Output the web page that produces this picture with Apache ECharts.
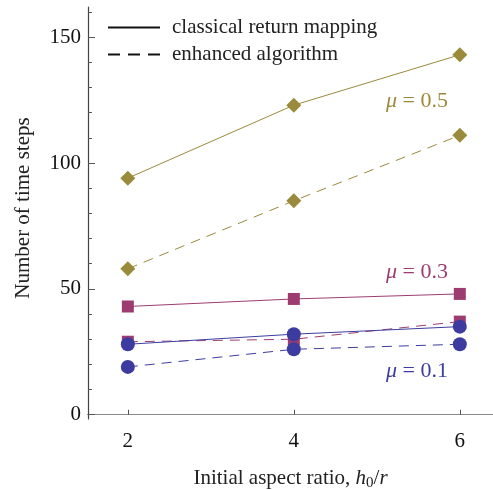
<!DOCTYPE html>
<html>
<head>
<meta charset="utf-8">
<script src="https://cdn.jsdelivr.net/npm/echarts@6/dist/echarts.min.js"></script>
<style>
  html, body { margin: 0; padding: 0; background: #fff; }
  #chart { width: 493px; height: 490px; }
</style>
</head>
<body>
<div id="chart"></div>
<script>
// aspect ratios h0/r
const ratios = [2, 4, 6];
// number of time steps, mu = 0.5
const mu05Classical = [94, 123, 143];
const mu05Enhanced = [58, 85, 111];
// mu = 0.3
const mu03Classical = [43, 46, 48];
const mu03Enhanced = [29, 30, 37];
// mu = 0.1
const mu01Classical = [28, 32, 35];
const mu01Enhanced = [19, 26, 28];

const yMajorTicks = [0, 50, 100, 150];
const yMinorTicks = [10, 20, 30, 40, 60, 70, 80, 90, 110, 120, 130, 140, 160];

const FONT = 'Liberation Serif';
const OLIVE = '#9a8a3b';
const PLUM = '#9c3c70';
const BLUE = '#3c3ca0';

const pairs = (ys) => ratios.map((x, i) => [x, ys[i]]);

const mychart = echarts.init(document.getElementById('chart'));

function mkSeries(name, ys, color, symbol, size, dashed) {
    return {
        name: name,
        type: 'line',
        data: pairs(ys),
        symbol: symbol,
        symbolSize: size,
        showSymbol: true,
        itemStyle: { color: color },
        lineStyle: { color: color, width: 1, type: dashed ? [10, 7] : 'solid' },
        emphasis: { disabled: true },
        z: 3
    };
}

function muLabel(txt, color, top) {
    return {
        type: 'text', left: 386, top: top,
        style: {
            text: '{i|μ} = ' + txt, fill: color, font: '22px "Liberation Serif"',
            rich: { i: { fontStyle: 'italic', fontSize: 22, fontFamily: FONT, fill: color } }
        }
    };
}

const option = {
    animation: false,
    textStyle: { fontFamily: FONT },
    grid: { left: 88, right: 0, top: 7, bottom: 71, containLabel: false, outerBoundsMode: 'none' },
    legend: {
        left: 102,
        top: 12,
        orient: 'vertical',
        itemWidth: 52,
        itemHeight: 14,
        itemGap: 6,
        data: ['classical return mapping', 'enhanced algorithm'],
        itemStyle: { opacity: 0 },
        textStyle: { fontFamily: FONT, fontSize: 21, color: '#222', padding: [0, 0, 0, 7] },
        selectedMode: false
    },
    xAxis: [{
        type: 'value',
        min: 1.52,
        max: 6.4,
        axisLine: { lineStyle: { color: '#333', width: 1.2 } },
        axisTick: { inside: true, length: 5, customValues: ratios, lineStyle: { color: '#555' } },
        axisLabel: { customValues: ratios, fontSize: 21, color: '#111', margin: 12, fontFamily: FONT },
        splitLine: { show: false },
        name: 'Initial aspect ratio, {i|h}{sub|0}/{i|r}',
        nameLocation: 'middle',
        nameGap: 47,
        nameTextStyle: {
            fontFamily: FONT, fontSize: 21, color: '#222',
            rich: {
                i: { fontFamily: FONT, fontStyle: 'italic', fontSize: 21, color: '#222' },
                sub: { fontFamily: FONT, fontSize: 15, color: '#222', padding: [10, 0, 0, 0] }
            }
        }
    }, {
        type: 'value',
        position: 'top',
        min: 1.52,
        max: 6.4,
        axisLine: { show: true, lineStyle: { color: '#888', width: 1.2 } },
        axisTick: { show: false },
        axisLabel: { show: false },
        splitLine: { show: false }
    }],
    yAxis: [{
        type: 'value',
        min: -1.7,
        max: 162,
        axisLine: { show: true, lineStyle: { color: '#444', width: 1.2 } },
        axisTick: { inside: true, length: 7, customValues: yMajorTicks, lineStyle: { color: '#555' } },
        axisLabel: { customValues: yMajorTicks, fontSize: 21, color: '#111', margin: 7, fontFamily: FONT },
        splitLine: { show: false },
        name: 'Number of time steps',
        nameLocation: 'middle',
        nameGap: 54,
        nameTextStyle: { fontFamily: FONT, fontSize: 21, color: '#222', padding: [0, 0, 0, 10] }
    }, {
        type: 'value',
        position: 'left',
        min: -1.7,
        max: 162,
        axisLine: { show: false },
        axisTick: { show: true, inside: true, length: 4, customValues: yMinorTicks, lineStyle: { color: '#555' } },
        axisLabel: { show: false },
        splitLine: { show: false }
    }],
    series: [
        // legend-only entries
        { name: 'classical return mapping', type: 'line', data: [], symbol: 'none', itemStyle: { color: '#111' }, lineStyle: { color: '#111', width: 1 } },
        { name: 'enhanced algorithm', type: 'line', data: [], symbol: 'none', itemStyle: { color: '#111' }, lineStyle: { color: '#111', width: 1, type: [12, 8] } },
        mkSeries('mu05c', mu05Classical, OLIVE, 'diamond', 15, false),
        mkSeries('mu05e', mu05Enhanced, OLIVE, 'diamond', 15, true),
        mkSeries('mu03c', mu03Classical, PLUM, 'rect', 12, false),
        mkSeries('mu03e', mu03Enhanced, PLUM, 'rect', 12, true),
        mkSeries('mu01c', mu01Classical, BLUE, 'circle', 14, false),
        mkSeries('mu01e', mu01Enhanced, BLUE, 'circle', 14, true)
    ],
    graphic: [
        muLabel('0.5', OLIVE, 90),
        muLabel('0.3', PLUM, 261),
        muLabel('0.1', BLUE, 360)
    ]
};

mychart.setOption(option, true);
</script>
</body>
</html>
